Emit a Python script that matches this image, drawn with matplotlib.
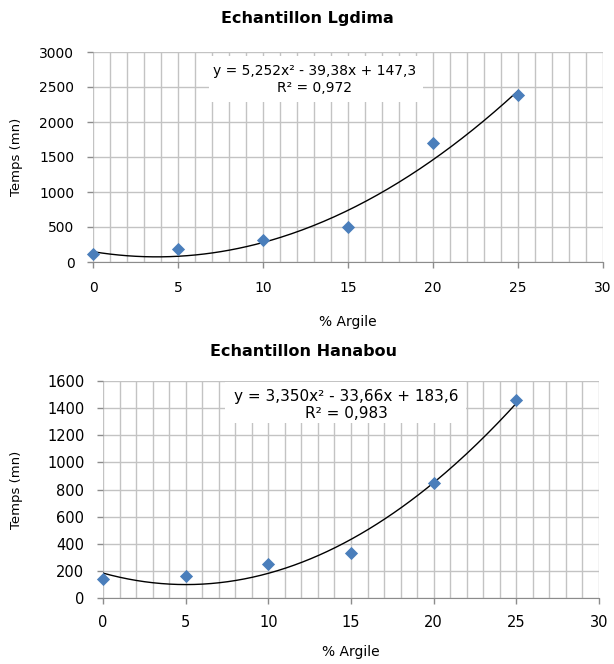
import numpy as np
import matplotlib
matplotlib.use("Agg")
import matplotlib.pyplot as plt
from matplotlib.ticker import MultipleLocator

plt.rcParams['font.family'] = ['DejaVu Sans']

argile = [0, 5, 10, 15, 20, 25]
temps_lgdima = [120, 180, 320, 500, 1700, 2390]
temps_hanabou = [140, 160, 250, 330, 850, 1460]
coef_lgdima = [5.252, -39.38, 147.3]
coef_hanabou = [3.350, -33.66, 183.6]
eq_lgdima = "y = 5,252x² - 39,38x + 147,3\nR² = 0,972"
eq_hanabou = "y = 3,350x² - 33,66x + 183,6\nR² = 0,983"

W, H = 614, 664
fig = plt.figure(figsize=(W / 100, H / 100), dpi=100)

def fx(px):
    return px / W

def fy(py):
    return 1 - py / H

specs = [
    dict(rect=(93, 52, 603, 262), title="Echantillon Lgdima", title_xy=(307, 19),
         ydata=temps_lgdima, coef=coef_lgdima, eq=eq_lgdima, ymax=3000, ystep=500,
         eqpos=(0.435, 0.869), eqsize=10, box=(0.227, 0.762, 0.42, 0.219),
         tick=10, xpad=9.4, ypad=9.4, xlab=(348, 322), ylab=(17, 157)),
    dict(rect=(103, 381, 599, 598), title="Echantillon Hanabou", title_xy=(303, 352),
         ydata=temps_hanabou, coef=coef_hanabou, eq=eq_hanabou, ymax=1600, ystep=200,
         eqpos=(0.49, 0.889), eqsize=11, box=(0.246, 0.806, 0.486, 0.19),
         tick=10.5, xpad=8, ypad=9.4, xlab=(351, 652), ylab=(17, 490)),
]

for sp in specs:
    l, t, r, b = sp['rect']
    ax = fig.add_axes([fx(l), fy(b), (r - l) / W, (b - t) / H])
    ax.set_xlim(0, 30)
    ax.set_ylim(0, sp['ymax'])
    ax.xaxis.set_major_locator(MultipleLocator(5))
    ax.xaxis.set_minor_locator(MultipleLocator(1))
    ax.yaxis.set_major_locator(MultipleLocator(sp['ystep']))
    ax.grid(which='both', axis='x', color='#c3c3c3', lw=1.0, zorder=0)
    ax.grid(which='major', axis='y', color='#c3c3c3', lw=1.0, zorder=0)
    for s in ['top', 'right', 'left']:
        ax.spines[s].set_visible(False)
    ax.spines['bottom'].set_color('#8c8c8c')
    ax.tick_params(axis='both', which='major', length=4, width=1, color='#8c8c8c',
                   labelsize=sp['tick'])
    ax.tick_params(axis='x', which='major', pad=sp['xpad'])
    ax.tick_params(axis='y', which='major', pad=sp['ypad'])
    ax.tick_params(which='minor', length=0)
    ax.set_axisbelow(True)

    xs = np.linspace(0, 25, 200)
    ax.plot(xs, np.polyval(sp['coef'], xs), color='black', lw=1.0, zorder=3)
    ax.scatter(argile, sp['ydata'], marker='D', s=45, color='#4a7ebb', zorder=4,
               clip_on=False, linewidths=0)

    bx, by, bw, bh = sp['box']
    ax.add_patch(plt.Rectangle((bx, by), bw, bh, transform=ax.transAxes,
                               facecolor='white', edgecolor='none', zorder=1))
    ax.text(sp['eqpos'][0], sp['eqpos'][1], sp['eq'], transform=ax.transAxes,
            ha='center', va='center', fontsize=sp['eqsize'], linespacing=1.2, zorder=5)

    fig.text(fx(sp['title_xy'][0]), fy(sp['title_xy'][1]), sp['title'],
             ha='center', va='center', fontsize=11.5, fontweight='bold')
    fig.text(fx(sp['xlab'][0]), fy(sp['xlab'][1]), "% Argile",
             ha='center', va='center', fontsize=10)
    fig.text(fx(sp['ylab'][0]), fy(sp['ylab'][1]), "Temps (mn)",
             ha='center', va='center', fontsize=9.5, rotation=90)

fig.savefig("out.png", dpi=100)
